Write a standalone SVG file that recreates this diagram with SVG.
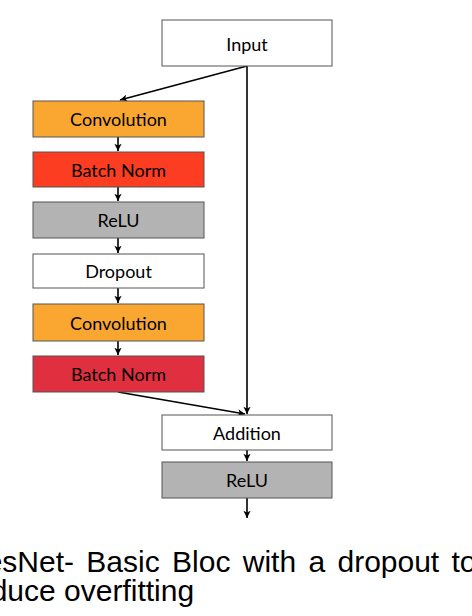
<svg xmlns="http://www.w3.org/2000/svg" width="472" height="616" viewBox="0 0 472 616">
<style>
.box{stroke:#555;stroke-width:1}
.lbl{font-family:Lato,"Open Sans",sans-serif;font-size:18px;fill:#000;text-anchor:middle}
.cap{font-family:"Liberation Sans",Arial,sans-serif;font-size:30px;fill:#000}
.edge{stroke:#000;stroke-width:1.6;fill:none;marker-end:url(#ah)}
</style>
<defs>
<marker id="ah" viewBox="0 0 10 10" refX="9" refY="5" markerWidth="9" markerHeight="9" markerUnits="userSpaceOnUse" orient="auto">
<path d="M1,1 L9,5 L1,9 L3,5 Z" fill="#000"/>
</marker>
</defs>
<rect width="472" height="616" fill="#fff"/>
<g id="connectors">
<line class="edge" x1="247" y1="66" x2="247" y2="414"/>
<line class="edge" x1="247" y1="66" x2="120" y2="100"/>
<line class="edge" x1="118" y1="137" x2="118" y2="151"/>
<line class="edge" x1="118" y1="187" x2="118" y2="201"/>
<line class="edge" x1="118" y1="238" x2="118" y2="253"/>
<line class="edge" x1="118" y1="288" x2="118" y2="303"/>
<line class="edge" x1="118" y1="341" x2="118" y2="355"/>
<line class="edge" x1="118" y1="392" x2="245" y2="414"/>
<line class="edge" x1="247" y1="450" x2="247" y2="461"/>
<line class="edge" x1="247" y1="498" x2="247" y2="518"/>
</g>
<g id="input"><rect class="box" x="162" y="20" width="170" height="46" fill="#fff"/><text class="lbl" x="247" y="51">Input</text></g>
<g id="conv1"><rect class="box" x="33" y="101" width="171" height="36" fill="#FAA732"/><text class="lbl" x="118.5" y="126">Convolution</text></g>
<g id="bn1"><rect class="box" x="33" y="152" width="171" height="35" fill="#FC3D21"/><text class="lbl" x="118.5" y="176.5">Batch Norm</text></g>
<g id="relu1"><rect class="box" x="33" y="202" width="171" height="36" fill="#B3B3B3"/><text class="lbl" x="118.5" y="227">ReLU</text></g>
<g id="dropout"><rect class="box" x="33" y="254" width="171" height="34" fill="#fff"/><text class="lbl" x="118.5" y="278">Dropout</text></g>
<g id="conv2"><rect class="box" x="33" y="304" width="171" height="37" fill="#FAA732"/><text class="lbl" x="118.5" y="329.5">Convolution</text></g>
<g id="bn2"><rect class="box" x="33" y="356" width="171" height="36" fill="#E0303F"/><text class="lbl" x="118.5" y="381">Batch Norm</text></g>
<g id="addition"><rect class="box" x="162" y="415" width="170" height="35" fill="#fff"/><text class="lbl" x="247" y="439.5">Addition</text></g>
<g id="relu2"><rect class="box" x="162" y="462" width="170" height="36" fill="#B3B3B3"/><text class="lbl" x="247" y="487">ReLU</text></g>
<g id="caption">
<text class="cap" x="-36" y="572" word-spacing="4">ResNet- Basic Bloc with a dropout to</text>
<text class="cap" x="-36" y="601">reduce overfitting</text>
</g>
</svg>
